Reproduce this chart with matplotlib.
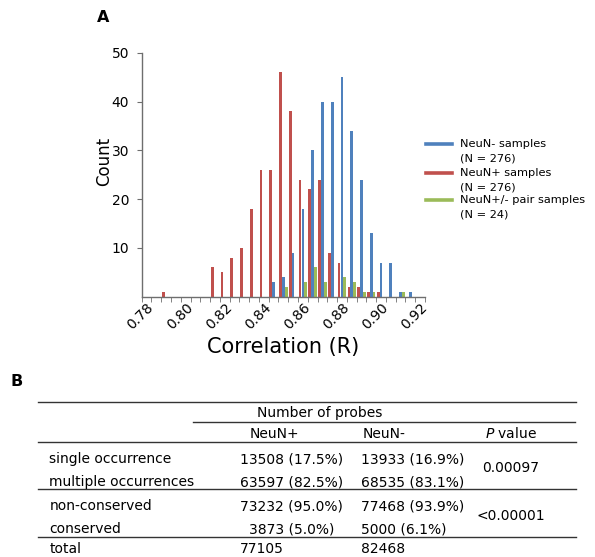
import matplotlib
matplotlib.use("Agg")
import matplotlib.pyplot as plt
from matplotlib.lines import Line2D

# 图 A：相关系数直方图数据（每个区间宽 0.005）
bins = [0.780, 0.785, 0.790, 0.795, 0.800, 0.805, 0.810, 0.815, 0.820, 0.825,
        0.830, 0.835, 0.840, 0.845, 0.850, 0.855, 0.860, 0.865, 0.870, 0.875,
        0.880, 0.885, 0.890, 0.895, 0.900, 0.905, 0.910, 0.915, 0.920]
neun_neg = [0, 0, 0, 0, 0, 0, 0, 0, 0, 0,
            0, 0, 0, 3, 4, 9, 18, 30, 40, 40,
            45, 34, 24, 13, 7, 7, 1, 1, 0]
neun_pos = [0, 0, 1, 0, 0, 0, 0, 6, 5, 8,
            10, 18, 26, 26, 46, 38, 24, 22, 24, 9,
            7, 2, 2, 1, 1, 0, 0, 0, 0]
neun_pair = [0, 0, 0, 0, 0, 0, 0, 0, 0, 0,
             0, 0, 0, 0, 2, 0, 3, 6, 3, 0,
             4, 3, 1, 1, 0, 0, 1, 0, 0]
xtick_vals = [0.78, 0.80, 0.82, 0.84, 0.86, 0.88, 0.90, 0.92]
xtick_labels = ["0.78", "0.80", "0.82", "0.84", "0.86", "0.88", "0.90", "0.92"]
ytick_vals = [10, 20, 30, 40, 50]
legend_labels = ["NeuN- samples", "NeuN+ samples", "NeuN+/- pair samples"]
legend_n = [276, 276, 24]

# 图 B：表格数据
row_labels = ["single occurrence", "multiple occurrences", "non-conserved", "conserved", "total"]
col_pos = ["13508 (17.5%)", "63597 (82.5%)", "73232 (95.0%)", "3873 (5.0%)", "77105"]
col_neg = ["13933 (16.9%)", "68535 (83.1%)", "77468 (93.9%)", "5000 (6.1%)", "82468"]
p_values = ["0.00097", "<0.00001"]

BLUE = "#4F81BD"
RED = "#C0504D"
GREEN = "#9BBB59"
AXC = "#6e6e6e"

W, H = 595, 557
fig = plt.figure(figsize=(W / 100, H / 100), dpi=100)


def fx(x):
    return x / W


def fy(y):
    return 1 - y / H


# ---------- A ----------
ax = fig.add_axes([fx(141.7), fy(296.7), fx(425) - fx(141.7), fy(52.7) - fy(296.7)])
step = 0.005
off = 0.00145
bw = 0.0014
ax.bar([b - off for b in bins], neun_pos, width=bw, color=RED, linewidth=0)
ax.bar(bins, neun_neg, width=bw, color=BLUE, linewidth=0)
ax.bar([b + off for b in bins], neun_pair, width=bw, color=GREEN, linewidth=0)

ax.set_xlim(bins[0] - step / 2, bins[-1] + step / 2)
ax.set_ylim(0, 50)
ax.set_yticks(ytick_vals)
ax.set_xticks(xtick_vals)
ax.set_xticklabels(xtick_labels, rotation=45, ha="right", va="top", rotation_mode="anchor")
ax.set_xticks([b - step / 2 for b in bins] + [bins[-1] + step / 2], minor=True)
ax.tick_params(axis="x", which="major", length=0, pad=3, labelsize=10)
ax.tick_params(axis="x", which="minor", length=3.5, color=AXC, direction="out")
ax.tick_params(axis="y", length=3.5, color=AXC, labelsize=10, pad=5.5)
for s in ["top", "right"]:
    ax.spines[s].set_visible(False)
for s in ["left", "bottom"]:
    ax.spines[s].set_color(AXC)
    ax.spines[s].set_linewidth(1.0)

fig.text(fx(104), fy(161), "Count", rotation=90, ha="center", va="center", fontsize=12)
fig.text(fx(283), fy(347), "Correlation (R)", ha="center", va="center", fontsize=15)
fig.text(fx(103), fy(17.5), "A", ha="center", va="center", fontsize=11.5, fontweight="bold")

# 手动图例（色块与第一行文字对齐）
leg_y = [144.3, 172.7, 199.8]
for lab, n, c, y in zip(legend_labels, legend_n, [BLUE, RED, GREEN], leg_y):
    fig.add_artist(Line2D([fx(426), fx(452)], [fy(y), fy(y)], color=c, lw=2.6,
                          transform=fig.transFigure))
    fig.text(fx(460.5), fy(y), lab, ha="left", va="center", fontsize=8.2)
    fig.text(fx(460.5), fy(y + 14.5), f"(N = {n})", ha="left", va="center", fontsize=8.2)

# ---------- B ----------
fig.text(fx(17), fy(381), "B", ha="center", va="center", fontsize=11.5, fontweight="bold")

LC = "#333333"
for y, x0, x1 in [(401.7, 38, 576), (422.3, 193, 575), (442.0, 38, 576),
                  (489.0, 38, 576), (536.7, 38, 576)]:
    fig.add_artist(Line2D([fx(x0), fx(x1)], [fy(y), fy(y)], color=LC, lw=1.0,
                          transform=fig.transFigure))

fs = 10
fig.text(fx(320), fy(417.3), "Number of probes", ha="center", va="baseline", fontsize=fs)
fig.text(fx(274), fy(438.3), "NeuN+", ha="center", va="baseline", fontsize=fs)
fig.text(fx(384.5), fy(438.3), "NeuN-", ha="center", va="baseline", fontsize=fs)
fig.text(fx(511), fy(438.3), "$P$ value", ha="center", va="baseline", fontsize=fs)

row_base = [463.3, 486.0, 510.0, 533.3, 553.3]
for i, (lab, a, b) in enumerate(zip(row_labels, col_pos, col_neg)):
    yb = fy(row_base[i])
    fig.text(fx(49.3), yb, lab, ha="left", va="baseline", fontsize=fs)
    if i < 4:
        fig.text(fx(291.5), yb, a, ha="center", va="baseline", fontsize=fs)
    else:
        fig.text(fx(240), yb, a, ha="left", va="baseline", fontsize=fs)
    fig.text(fx(361), yb, b, ha="left", va="baseline", fontsize=fs)

for p, y in zip(p_values, [472.3, 520.0]):
    fig.text(fx(511), fy(y), p, ha="center", va="baseline", fontsize=fs)

fig.savefig("out.png", dpi=100)
